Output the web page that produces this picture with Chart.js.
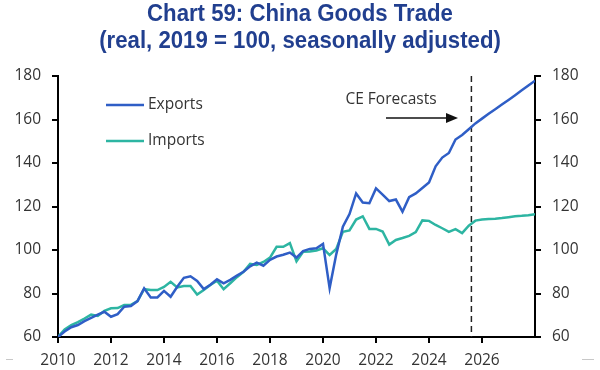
<!DOCTYPE html>
<html>
<head>
<meta charset="utf-8">
<script src="https://cdn.jsdelivr.net/npm/chart.js@4.4.1/dist/chart.umd.min.js"></script>
<style>
	html, body { margin: 0; padding: 0; background: #fff; }
	#wrap { width: 600px; height: 370px; }
</style>
</head>
<body>
<div id="wrap"><canvas id="tradeChart" width="600" height="370"></canvas></div>
<script>
// quarterly readings, first point = 2010 Q1
var startYear = 2010;
var forecastStart = 2025.6;

var exportsData = [
	60, 62.5, 64.5, 65.5,
	67.3, 68.8, 70.3, 71.6,
	69.3, 70.5, 73.9, 74.2,
	76.5, 82.4, 78.2, 78.2,
	81.2, 78.5, 83.1, 87.2,
	87.9, 85.8, 82, 84,
	86.5, 84.7, 86.3, 88.2,
	90, 92.5, 94.2, 92.8,
	95.5, 97, 97.8, 98.8,
	96.5, 99.5, 100.5, 100.8,
	102.8, 82.5, 98, 110.7,
	116.5, 126, 121.8, 121.5,
	128.3, 125.5, 122.5, 123.2,
	117.6, 124.3, 126, 128.5,
	131, 138.5, 142.5, 144.6,
	150.8, 152.9, 155.5, 158.2,
	160.4, 162.6, 164.7, 166.9,
	169, 171.2, 173.4, 175.6,
	177.8
];

var importsData = [
	60, 63.5, 65.5, 66.8,
	68.5, 70.3, 69.7, 72,
	73.2, 73.3, 74.7, 74.8,
	76.5, 82, 81.6, 81.6,
	83, 85.4, 82.8, 83.4,
	83.4, 79.5, 81.6, 83.9,
	85.9, 82, 84.7, 87.5,
	90, 93.6, 93.1, 94.5,
	96.5, 101.5, 101.5, 103.2,
	94.8, 99.2, 99.3, 99.8,
	100.8, 97.7, 100.5, 108.4,
	109, 114, 115.5, 109.7,
	109.7, 108.5, 102.5, 104.6,
	105.5, 106.5, 108.2, 113.6,
	113.4, 111.5, 110, 108.3,
	109.6, 107.8, 111.2, 113.5,
	114, 114.2, 114.4, 114.7,
	115.1, 115.5, 115.7, 116,
	116.5
];

var yearTicks = [2010, 2012, 2014, 2016, 2018, 2020, 2022, 2024, 2026];
var valueTicks = [60, 80, 100, 120, 140, 160, 180];

var titleLines = ['Chart 59: China Goods Trade', '(real, 2019 = 100, seasonally adjusted)'];
var seriesNames = ['Exports', 'Imports'];
var seriesColors = ['#2f5ec6', '#2db5a2'];
var forecastLabel = 'CE Forecasts';

function toPoints(values) {
	var pts = [];
	for (var i = 0; i < values.length; i++) {
		pts.push({ x: startYear + i / 4, y: values[i] });
	}
	return pts;
}

var textFont = '"Open Sans", "Noto Sans", sans-serif';
var textColor = '#333333';

var extras = {
	id: 'extras',
	beforeDatasetsDraw: function(chart) {
		var ctx = chart.ctx;
		var area = chart.chartArea;
		var x = chart.scales.x.getPixelForValue(forecastStart);
		ctx.save();
		ctx.strokeStyle = '#222';
		ctx.lineWidth = 1.5;
		ctx.setLineDash([6, 4]);
		ctx.beginPath();
		ctx.moveTo(x, area.top);
		ctx.lineTo(x, area.bottom);
		ctx.stroke();
		ctx.restore();
	},
	afterDraw: function(chart) {
		var ctx = chart.ctx;
		ctx.save();

		// title, squeezed a bit to look like the condensed original
		ctx.fillStyle = '#213f8f';
		ctx.textAlign = 'center';
		ctx.textBaseline = 'middle';
		ctx.font = 'bold 24px "Liberation Sans", sans-serif';
		var titleY = [14, 41];
		for (var t = 0; t < titleLines.length; t++) {
			ctx.save();
			ctx.translate(300, titleY[t]);
			ctx.scale(0.925, 1);
			ctx.fillText(titleLines[t], 0, 0);
			ctx.restore();
		}

		// legend
		ctx.font = '15.5px ' + textFont;
		ctx.textAlign = 'left';
		var legendY = [105, 141];
		for (var i = 0; i < seriesNames.length; i++) {
			ctx.strokeStyle = seriesColors[i];
			ctx.lineWidth = 2.5;
			ctx.beginPath();
			ctx.moveTo(106, legendY[i]);
			ctx.lineTo(144, legendY[i]);
			ctx.stroke();
			ctx.fillStyle = textColor;
			ctx.fillText(seriesNames[i], 148, legendY[i]);
		}

		// forecast note and arrow
		ctx.textAlign = 'center';
		ctx.fillText(forecastLabel, 391, 100);
		ctx.strokeStyle = '#111';
		ctx.fillStyle = '#111';
		ctx.lineWidth = 1.5;
		ctx.beginPath();
		ctx.moveTo(386, 118);
		ctx.lineTo(448, 118);
		ctx.stroke();
		ctx.beginPath();
		ctx.moveTo(458, 118);
		ctx.lineTo(446, 113);
		ctx.lineTo(446, 123);
		ctx.closePath();
		ctx.fill();

		// little grey marks in the bottom corners
		ctx.strokeStyle = '#c8c8c8';
		ctx.lineWidth = 1;
		ctx.beginPath();
		ctx.moveTo(6, 359.5);
		ctx.lineTo(13, 359.5);
		ctx.moveTo(582, 359.5);
		ctx.lineTo(594, 359.5);
		ctx.stroke();

		ctx.restore();
	}
};

function yAxis(position, width) {
	return {
		type: 'linear',
		position: position,
		min: 60,
		max: 180,
		afterBuildTicks: function(axis) {
			axis.ticks = valueTicks.map(function(v) { return { value: v }; });
		},
		afterFit: function(axis) { axis.width = width; },
		border: { display: true, color: '#000', width: 2 },
		grid: { drawOnChartArea: false, drawTicks: true, tickLength: 6, color: '#000', lineWidth: 2 },
		ticks: {
			padding: 11,
			color: textColor,
			font: { family: textFont, size: 15.5 }
		}
	};
}

var ctx = document.getElementById('tradeChart').getContext('2d');
var chart = new Chart(ctx, {
	type: 'line',
	data: {
		datasets: [{
			label: seriesNames[0],
			data: toPoints(exportsData),
			borderColor: seriesColors[0],
			borderWidth: 2.5,
			pointRadius: 0,
			tension: 0,
			fill: false
		}, {
			label: seriesNames[1],
			data: toPoints(importsData),
			borderColor: seriesColors[1],
			borderWidth: 2.5,
			pointRadius: 0,
			tension: 0,
			fill: false
		}]
	},
	options: {
		responsive: false,
		animation: false,
		layout: { padding: { top: 76, left: 0, right: 0, bottom: 0 } },
		plugins: {
			legend: { display: false },
			title: { display: false },
			tooltip: { enabled: false }
		},
		scales: {
			x: {
				type: 'linear',
				min: 2010,
				max: 2028,
				afterBuildTicks: function(axis) {
					axis.ticks = yearTicks.map(function(v) { return { value: v }; });
				},
				afterFit: function(axis) { axis.height = 33; },
				border: { display: true, color: '#000', width: 2 },
				grid: { drawOnChartArea: false, drawTicks: true, tickLength: 6, color: '#000', lineWidth: 2 },
				ticks: {
					padding: 8,
					maxRotation: 0,
					color: textColor,
					font: { family: textFont, size: 15.5 },
					callback: function(v) { return String(v); }
				}
			},
			y: yAxis('left', 58),
			y2: yAxis('right', 65)
		}
	},
	plugins: [extras]
});
</script>
</body>
</html>
